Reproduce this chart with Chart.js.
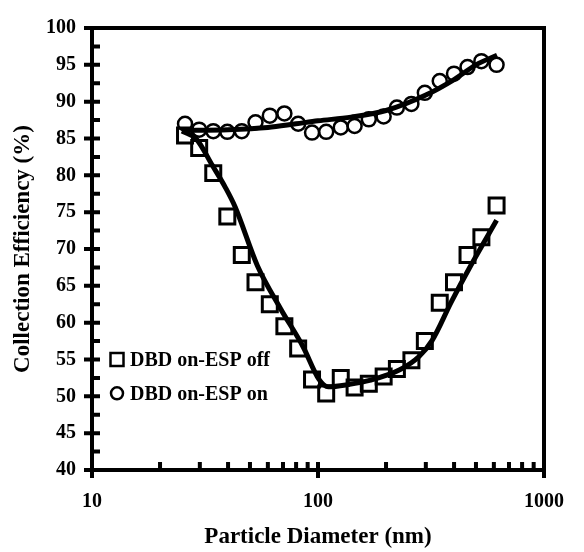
<!DOCTYPE html>
<html>
<head>
<meta charset="utf-8">
<script src="https://cdn.jsdelivr.net/npm/chart.js@4.4.0/dist/chart.umd.min.js"></script>
<style>
  html, body { margin: 0; padding: 0; background: #fff; }
</style>
</head>
<body>
<canvas id="grafico" width="584" height="552"></canvas>
<script>
// datos
const diametros = [25.8, 29.8, 34.4, 39.7, 46.0, 52.9, 61.2, 71.0, 81.7, 94.1, 108.7, 126.1, 145.2, 167.8, 195.2, 223.4, 259.0, 297.0, 345.7, 399.7, 458.8, 528.4, 616.8];
const espOff = [85.4, 83.7, 80.3, 74.4, 69.2, 65.5, 62.5, 59.5, 56.5, 52.3, 50.4, 52.5, 51.2, 51.7, 52.7, 53.7, 54.9, 57.5, 62.7, 65.5, 69.2, 71.6, 75.9];
const espOn = [87.0, 86.2, 86.0, 85.9, 86.0, 87.2, 88.1, 88.4, 87.0, 85.8, 85.9, 86.5, 86.7, 87.6, 88.0, 89.2, 89.7, 91.2, 92.8, 93.8, 94.7, 95.5, 95.0];

// curvas de ajuste
const ajusteOffX = [25, 29, 34, 39, 43, 54, 68, 86, 101, 111, 136, 171, 230, 280, 320, 390, 473, 617];
const ajusteOffY = [86.0, 84.9, 81.4, 78.3, 75.7, 67.7, 62.0, 56.7, 52.3, 51.3, 51.6, 52.2, 53.6, 55.4, 57.6, 62.9, 67.7, 73.9];
const ajusteOnX = [25, 40, 60, 80, 100, 140, 200, 300, 400, 500, 620];
const ajusteOnY = [86.1, 86.2, 86.5, 87.0, 87.4, 87.9, 88.8, 90.9, 93.0, 95.0, 96.3];

const etiquetas = ['DBD on-ESP off', 'DBD on-ESP on'];

// marcas de los ejes
const xMayores = [10, 100, 1000];
const xMenores = [20, 30, 40, 50, 60, 70, 80, 90, 200, 300, 400, 500, 600, 700, 800, 900];
const yMayores = [40, 45, 50, 55, 60, 65, 70, 75, 80, 85, 90, 95, 100];
const yMenores = [42.5, 47.5, 52.5, 57.5, 62.5, 67.5, 72.5, 77.5, 82.5, 87.5, 92.5, 97.5];

const fuente = 'Liberation Serif, Times New Roman, serif';

function puntos(xs, ys) {
    return xs.map((v, i) => ({ x: v, y: ys[i] }));
}

const marcoEjes = {
    id: 'marcoEjes',
    afterDraw(chart) {
        const { ctx, chartArea: a, scales: { x, y } } = chart;
        ctx.save();
        ctx.strokeStyle = '#000';
        ctx.lineWidth = 4;
        ctx.strokeRect(a.left, a.top, a.right - a.left, a.bottom - a.top);
        ctx.beginPath();
        yMayores.forEach(v => {
            const py = y.getPixelForValue(v);
            ctx.moveTo(a.left - 8, py); ctx.lineTo(a.left + 8, py);
        });
        yMenores.forEach(v => {
            const py = y.getPixelForValue(v);
            ctx.moveTo(a.left, py); ctx.lineTo(a.left + 8, py);
        });
        xMayores.forEach(v => {
            const px = x.getPixelForValue(v);
            ctx.moveTo(px, a.bottom + 8); ctx.lineTo(px, a.bottom - 8);
        });
        xMenores.forEach(v => {
            const px = x.getPixelForValue(v);
            ctx.moveTo(px, a.bottom); ctx.lineTo(px, a.bottom - 8);
        });
        ctx.stroke();

        // leyenda
        const lx = a.left + 25;
        const ly1 = y.getPixelForValue(55);
        const ly2 = y.getPixelForValue(50) - 3;
        ctx.lineWidth = 2.5;
        ctx.strokeRect(lx - 6.5, ly1 - 6.5, 13, 13);
        ctx.beginPath();
        ctx.arc(lx, ly2, 6, 0, Math.PI * 2);
        ctx.stroke();
        ctx.fillStyle = '#000';
        ctx.font = 'bold 20px ' + fuente;
        ctx.textBaseline = 'middle';
        ctx.textAlign = 'left';
        ctx.fillText(etiquetas[0], lx + 13, ly1 + 1);
        ctx.fillText(etiquetas[1], lx + 13, ly2 + 1);
        ctx.restore();
    }
};

new Chart(document.getElementById('grafico'), {
    type: 'scatter',
    data: {
        datasets: [
            {
                label: etiquetas[0],
                data: puntos(diametros, espOff),
                pointStyle: 'rect',
                pointRadius: 10.6,
                borderWidth: 3,
                borderColor: '#000',
                backgroundColor: 'rgba(0,0,0,0)',
                order: 2
            },
            {
                label: etiquetas[1],
                data: puntos(diametros, espOn),
                pointStyle: 'circle',
                pointRadius: 7,
                borderWidth: 2.5,
                borderColor: '#000',
                backgroundColor: 'rgba(0,0,0,0)',
                order: 2
            },
            {
                label: 'ajuste off',
                data: puntos(ajusteOffX, ajusteOffY),
                showLine: true,
                pointRadius: 0,
                borderWidth: 5,
                borderColor: '#000',
                cubicInterpolationMode: 'monotone',
                order: 1
            },
            {
                label: 'ajuste on',
                data: puntos(ajusteOnX, ajusteOnY),
                showLine: true,
                pointRadius: 0,
                borderWidth: 5,
                borderColor: '#000',
                cubicInterpolationMode: 'monotone',
                order: 1
            }
        ]
    },
    options: {
        responsive: false,
        animation: false,
        devicePixelRatio: 1,
        layout: { padding: { top: 16, right: 25, left: 0, bottom: 0 } },
        plugins: { legend: { display: false }, tooltip: { enabled: false } },
        scales: {
            x: {
                type: 'logarithmic',
                min: 10,
                max: 1000,
                afterFit: s => { s.height = 82; },
                afterBuildTicks: s => { s.ticks = xMayores.map(v => ({ value: v })); },
                grid: { display: false, drawTicks: false },
                border: { display: false },
                ticks: {
                    padding: 20,
                    color: '#000',
                    font: { family: fuente, size: 20, weight: 'bold' },
                    callback: v => String(v),
                    maxRotation: 0
                },
                title: {
                    display: true,
                    text: 'Particle Diameter (nm)',
                    color: '#000',
                    font: { family: fuente, size: 23, weight: 'bold' },
                    padding: { top: 0, bottom: 1 }
                }
            },
            y: {
                min: 40,
                max: 100,
                afterFit: s => { s.width = 92; },
                afterBuildTicks: s => { s.ticks = yMayores.map(v => ({ value: v })); },
                grid: { display: false, drawTicks: false },
                border: { display: false },
                ticks: {
                    padding: 16,
                    color: '#000',
                    font: { family: fuente, size: 20, weight: 'bold' }
                },
                title: {
                    display: true,
                    text: 'Collection Efficiency (%)',
                    color: '#000',
                    font: { family: fuente, size: 23, weight: 'bold' },
                    padding: { top: 9, bottom: 0 }
                }
            }
        }
    },
    plugins: [marcoEjes]
});
</script>
</body>
</html>
